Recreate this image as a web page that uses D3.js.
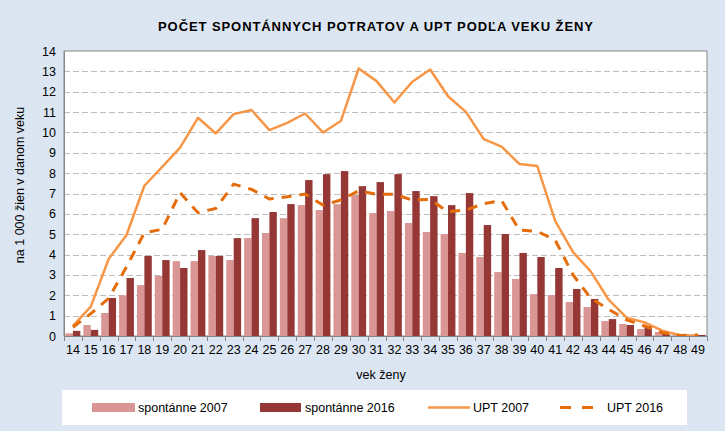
<!DOCTYPE html>
<html><head><meta charset="utf-8">
<script src="https://cdn.jsdelivr.net/npm/d3@7"></script>
<style>body{margin:0;background:#dce6f2;} svg{display:block;font-family:"Liberation Sans",Arial,sans-serif;}</style>
</head><body>
<script>
const ages = d3.range(14, 50).map(String);
const spont2007 = [0.13,0.54,1.13,2.0,2.5,2.96,3.68,3.68,3.93,3.73,4.81,5.06,5.79,6.43,6.19,6.48,6.92,6.04,6.14,5.55,5.11,5.01,4.08,3.88,3.14,2.8,2.06,2.01,1.67,1.42,0.74,0.59,0.34,0.2,0.03,0.01];
const spont2016 = [0.25,0.3,1.87,2.85,3.93,3.73,3.34,4.22,3.93,4.81,5.79,6.09,6.48,7.66,7.95,8.1,7.36,7.56,7.95,7.12,6.87,6.43,7.02,5.45,5.01,4.08,3.88,3.34,2.31,1.82,0.83,0.54,0.49,0.1,0.03,0.05];
const upt2007 = [0.5,1.44,3.78,4.96,7.38,8.31,9.25,10.72,9.95,10.9,11.1,10.11,10.47,10.93,10.0,10.56,13.14,12.52,11.47,12.49,13.09,11.78,11.01,9.67,9.3,8.45,8.35,5.65,4.12,3.16,1.77,0.9,0.67,0.26,0.04,0.02];
const upt2016 = [0.43,1.1,1.85,3.4,5.07,5.24,7.04,6.06,6.27,7.46,7.2,6.73,6.84,6.97,6.43,6.68,7.14,6.96,6.96,6.68,6.71,6.1,6.19,6.5,6.65,5.2,5.14,4.71,3.0,1.85,1.31,0.79,0.49,0.16,0.03,0.05];
const yTicks = d3.range(0, 15);

const W = 725, H = 431;
const m = {l: 64, r: 707, t: 51, b: 336};
const svg = d3.select("body").append("svg").attr("width", W).attr("height", H);
svg.append("rect").attr("width", W).attr("height", H).attr("fill", "#dce6f2");

svg.append("text").attr("x", 158).attr("y", 31)
  .attr("font-size", 13).attr("font-weight", "bold").attr("fill", "#000")
  .attr("textLength", 435).attr("lengthAdjust", "spacing")
  .text("POČET SPONTÁNNYCH POTRATOV A UPT PODĽA VEKU ŽENY");

const x = d3.scaleBand().domain(ages).range([m.l, m.r]).paddingInner(0).paddingOuter(0);
const y = d3.scaleLinear().domain([0, 14]).range([m.b, m.t]);

svg.append("rect").attr("x", m.l).attr("y", m.t).attr("width", m.r - m.l).attr("height", m.b - m.t)
  .attr("fill", "#fff").attr("stroke", "#868686").attr("stroke-width", 1);

// gridlines
svg.append("g").selectAll("line").data(yTicks.filter(d => d > 0 && d < 14)).join("line")
  .attr("x1", m.l).attr("x2", m.r).attr("y1", d => Math.round(y(d)) + 0.5).attr("y2", d => Math.round(y(d)) + 0.5)
  .attr("stroke", "#bdbdbd").attr("stroke-width", 1).attr("stroke-dasharray", "6,3");

// y axis
const yAxis = d3.axisLeft(y).tickValues(yTicks).tickSize(0).tickPadding(8).tickFormat(d3.format("d"));
const gy = svg.append("g").attr("transform", `translate(${m.l},0)`).call(yAxis);
gy.select(".domain").attr("stroke", "#868686");
gy.selectAll("text").attr("font-size", 12.5).attr("fill", "#000").attr("font-family", "Liberation Sans, Arial, sans-serif");

// bars
const bw = x.bandwidth();
const barW = 7.4;
const g0 = (bw - 2 * barW) / 2;
svg.append("g").selectAll("rect").data(spont2007).join("rect")
  .attr("x", (d, i) => x(ages[i]) + g0).attr("width", barW)
  .attr("y", d => y(d)).attr("height", d => y(0) - y(d)).attr("fill", "#d99694");
svg.append("g").selectAll("rect").data(spont2016).join("rect")
  .attr("x", (d, i) => x(ages[i]) + g0 + barW).attr("width", barW)
  .attr("y", d => y(d)).attr("height", d => y(0) - y(d)).attr("fill", "#953735");

// lines
const line = d3.line().x((d, i) => x(ages[i]) + bw / 2).y(d => y(d));
svg.append("path").datum(upt2007).attr("d", line).attr("fill", "none")
  .attr("stroke", "#f79646").attr("stroke-width", 2.5).attr("stroke-linejoin", "round");
svg.append("path").datum(upt2016).attr("d", line).attr("fill", "none")
  .attr("stroke", "#e46c0a").attr("stroke-width", 3).attr("stroke-dasharray", "10,8");

// x axis
const xAxis = d3.axisBottom(x).tickSize(0).tickPadding(9);
const gx = svg.append("g").attr("transform", `translate(0,${m.b})`).call(xAxis);
gx.select(".domain").attr("stroke", "#868686");
gx.selectAll("text").attr("font-size", 12.5).attr("fill", "#000").attr("font-family", "Liberation Sans, Arial, sans-serif");
svg.append("g").selectAll("line").data(d3.range(ages.length + 1)).join("line")
  .attr("x1", i => Math.round(m.l + i * bw) + 0.5).attr("x2", i => Math.round(m.l + i * bw) + 0.5)
  .attr("y1", m.b).attr("y2", m.b + 5).attr("stroke", "#868686");

svg.append("text").attr("x", 381).attr("y", 379).attr("text-anchor", "middle")
  .attr("font-size", 12.5).attr("fill", "#000").text("vek ženy");
svg.append("text").attr("transform", "translate(24,185) rotate(-90)").attr("text-anchor", "middle")
  .attr("font-size", 12.5).attr("fill", "#000").text("na 1 000 žien v danom veku");

// legend
const lg = svg.append("g");
lg.append("rect").attr("x", 62).attr("y", 390).attr("width", 625).attr("height", 35).attr("fill", "#fff");
const ly = 407.5;
lg.append("rect").attr("x", 92).attr("y", ly - 4.5).attr("width", 43).attr("height", 9).attr("fill", "#d99694");
lg.append("text").attr("x", 138).attr("y", ly + 4.5).attr("font-size", 12.5).text("spontánne 2007");
lg.append("rect").attr("x", 260).attr("y", ly - 4.5).attr("width", 41).attr("height", 9).attr("fill", "#953735");
lg.append("text").attr("x", 305).attr("y", ly + 4.5).attr("font-size", 12.5).text("spontánne 2016");
lg.append("line").attr("x1", 428).attr("x2", 470).attr("y1", ly).attr("y2", ly).attr("stroke", "#f79646").attr("stroke-width", 2.5);
lg.append("text").attr("x", 473).attr("y", ly + 4.5).attr("font-size", 12.5).text("UPT 2007");
lg.append("line").attr("x1", 560).attr("x2", 593).attr("y1", ly).attr("y2", ly).attr("stroke", "#e46c0a").attr("stroke-width", 3).attr("stroke-dasharray", "11,11");
lg.append("text").attr("x", 607).attr("y", ly + 4.5).attr("font-size", 12.5).text("UPT 2016");
</script>
</body></html>
